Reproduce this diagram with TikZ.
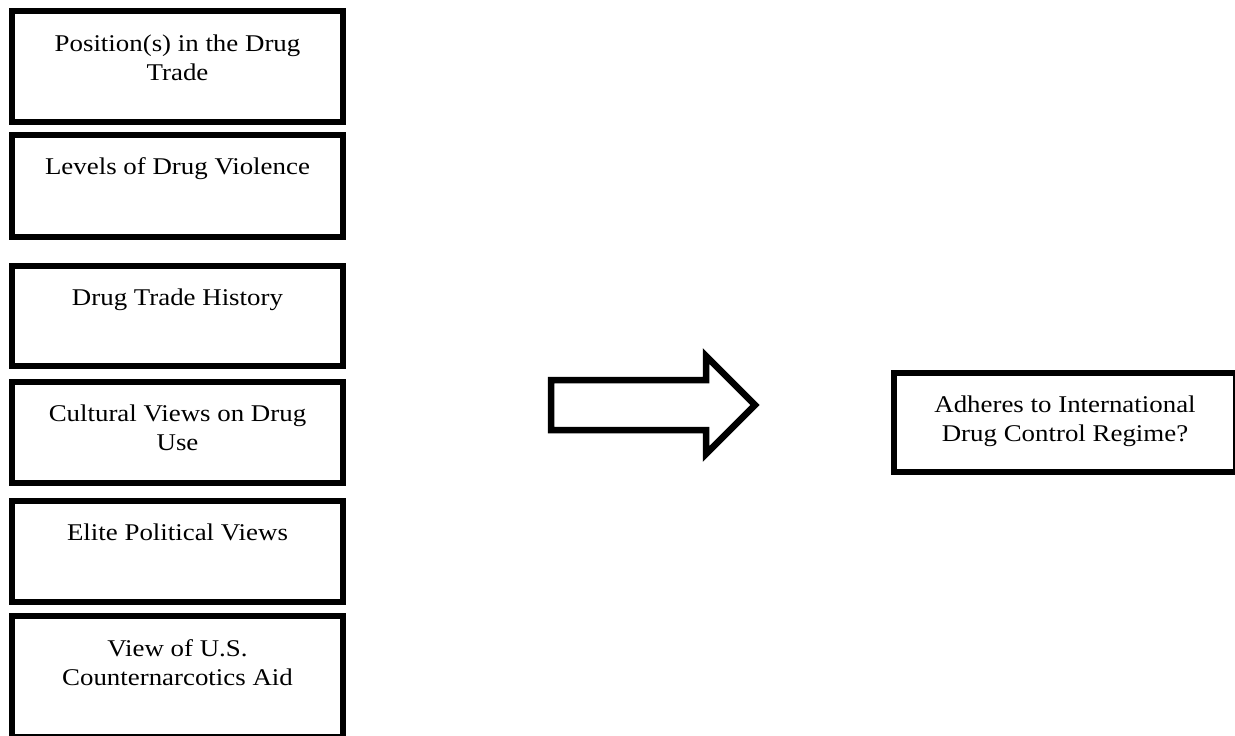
\documentclass[tikz,border=0pt]{standalone}
\usepackage{fontspec}
\setmainfont{Liberation Serif}[FakeStretch=1.12]
\usetikzlibrary{positioning}

\begin{document}
\begin{tikzpicture}[
  x=1pt, y=-1pt,
  factor/.style={draw, line width=6pt, minimum width=331pt, inner sep=0pt, outer sep=0pt},
  outcome/.style={draw, line width=6pt, minimum width=342pt, minimum height=99pt, inner sep=0pt, outer sep=0pt},
  factext/.style={font=\fontsize{24}{28.5}\selectfont, align=center, inner sep=0pt, outer sep=0pt}
]
  \useasboundingbox (0,0) rectangle (1235,736);

  % Factors on the left
  \node[factor, minimum height=111pt] (trade) at (177.5,66.5) {};
  \node[factext, below=21pt of trade.north] (trade-t) {\strut Position(s) in the Drug\\Trade};

  \node[factor, minimum height=102pt] (violence) at (177.5,186) {};
  \node[factext, below=20pt of violence.north] (violence-t) {\strut Levels of Drug Violence};

  \node[factor, minimum height=100pt] (history) at (177.5,316) {};
  \node[factext, below=20pt of history.north] (history-t) {\strut Drug Trade History};

  \node[factor, minimum height=101pt] (culture) at (177.5,432.5) {};
  \node[factext, below=20pt of culture.north] (culture-t) {\strut Cultural Views on Drug\\Use};

  \node[factor, minimum height=101pt] (elite) at (177.5,551.5) {};
  \node[factext, below=20pt of elite.north] (elite-t) {\strut Elite Political Views};

  \node[factor, minimum height=121pt] (aid) at (177.5,676.5) {};
  \node[factext, below=21pt of aid.north] (aid-t) {\strut View of U.S.\\Counternarcotics Aid};

  % Block arrow
  \draw[line width=6.5pt, line join=miter]
    (551,380) -- (706,380) -- (706,356) -- (755,405) -- (706,454) -- (706,430) -- (551,430) -- cycle;

  % Outcome
  \node[outcome] (regime) at (1065,422.5) {};
  \node[factext, below=20pt of regime.north] (regime-t) {\strut Adheres to International\\Drug Control Regime?};
\end{tikzpicture}
\end{document}
